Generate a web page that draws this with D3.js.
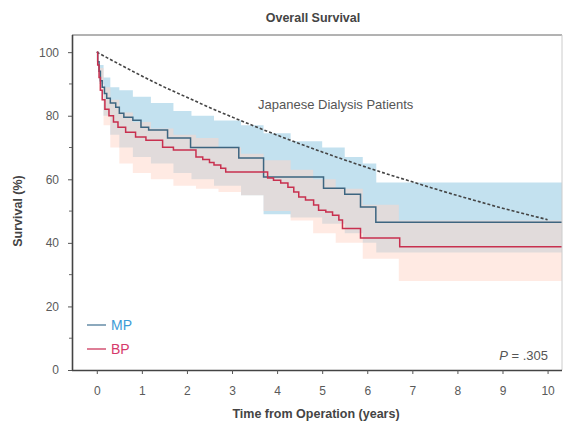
<!DOCTYPE html>
<html>
<head>
<meta charset="utf-8">
<script src="https://cdn.jsdelivr.net/npm/d3@7/dist/d3.min.js"></script>
<style>
  html, body { margin: 0; padding: 0; background: #fff; }
  svg { display: block; font-family: "Liberation Sans", Arial, Helvetica, sans-serif; }
</style>
</head>
<body>
<svg id="chart" width="566" height="423"></svg>
<script>
// Kaplan–Meier curves: [years, survival %]
const mpCurve = [
  [0,100],[0.02,97],[0.05,94],[0.08,91],[0.12,89],[0.17,87],[0.22,85.5],[0.3,84],
  [0.42,82.7],[0.5,80.8],[0.6,79.5],[0.8,78.6],[0.98,76.4],[1.15,75.5],[1.57,73],
  [2.08,70],[3.15,66.7],[3.7,60.7],[5.03,57.2],[5.5,55.3],[5.85,51.3],[6.19,46.5],[10.32,46.5]
];
const bpCurve = [
  [0,100],[0.02,96],[0.05,92],[0.08,88],[0.12,85],[0.18,82],[0.27,80],[0.37,78],
  [0.47,76.4],[0.64,74.8],[0.86,73.3],[1.09,72.3],[1.46,70.1],[1.7,69.2],[2.2,67],
  [2.35,66.2],[2.5,65.3],[2.6,64.5],[2.75,63.5],[2.86,62.3],[3.79,60.4],[3.92,59.7],
  [4.08,58.8],[4.24,57.5],[4.37,56],[4.48,54.4],[4.63,53.5],[4.81,51.9],[4.92,50.3],
  [5.08,49.7],[5.23,48.7],[5.37,47.2],[5.45,44.5],[5.85,41.5],[6.72,38.8],[10.32,38.8]
];
// Confidence bands: [years, lower %, upper %]
const mpBand = [
  [0,100,100],[0.05,90,96],[0.15,80,92],[0.3,74,89],[0.5,70,88],[0.8,67,86],[1.2,65,84],
  [1.7,62,81.5],[2.1,60,80],[2.6,58,78.5],[3.2,55,77],[3.7,49,74.5],[4.3,48,72],[5.0,46,70],
  [5.5,43,67],[5.9,40,65],[6.2,37,59],[10.32,37,59]
];
const bpBand = [
  [0,100,100],[0.05,88,95],[0.15,77,89],[0.3,70,85],[0.5,65,81],[0.8,62,78],[1.2,60,76],
  [1.7,58,74],[2.2,57,73],[2.7,56,70],[3.2,55,68],[3.7,50,66],[4.3,47,63],[4.8,43,60],
  [5.3,40,57],[5.9,35,52],[6.7,28,47],[10.32,28,47]
];
// Reference population curve
const refCurve = [
  [0,100],[0.5,96.2],[1,92.5],[1.5,89],[2,85.8],[2.5,82.6],[3,79.6],[3.5,76.7],[4,73.9],
  [4.5,71.2],[5,68.6],[5.5,66.1],[6,63.7],[6.5,61.4],[7,59.2],[7.5,57],[8,54.9],
  [8.5,52.9],[9,50.9],[9.5,49.1],[10,47.3]
];
const xTicks = [0,1,2,3,4,5,6,7,8,9,10];
const yTicks = [0,20,40,60,80,100];
const yMinorTicks = [10,30,50,70,90];
const seriesNames = ["MP", "BP"];

const svg = d3.select("#chart");
const plotL = 72, plotR = 562, plotT = 35, plotB = 370;

const x = d3.scaleLinear().domain([-0.55, 10.32]).range([plotL, plotR]);
const y = d3.scaleLinear().domain([0, 105.4]).range([plotB, plotT]);

// Confidence bands
const band = d3.area().curve(d3.curveStepAfter)
  .x(d => x(d[0])).y0(d => y(d[1])).y1(d => y(d[2]));
svg.append("path").datum(mpBand).attr("d", band).attr("fill", "#c3e1ef");
svg.append("path").datum(bpBand).attr("d", band).attr("fill", "#ffd6c8").attr("fill-opacity", 0.5);

// Reference dashed curve
const smooth = d3.line().curve(d3.curveMonotoneX).x(d => x(d[0])).y(d => y(d[1]));
svg.append("path").datum(refCurve).attr("d", smooth)
  .attr("fill", "none").attr("stroke", "#444").attr("stroke-width", 1.6)
  .attr("stroke-dasharray", "3,2");

// Step curves
const step = d3.line().curve(d3.curveStepAfter).x(d => x(d[0])).y(d => y(d[1]));
svg.append("path").datum(mpCurve).attr("d", step)
  .attr("fill", "none").attr("stroke", "#3d6580").attr("stroke-width", 1.5);
svg.append("path").datum(bpCurve).attr("d", step)
  .attr("fill", "none").attr("stroke", "#c8304f").attr("stroke-width", 1.5);

// Frame
svg.append("line").attr("x1", plotL).attr("x2", plotR).attr("y1", plotT).attr("y2", plotT)
  .attr("stroke", "#666").attr("stroke-width", 1);
svg.append("line").attr("x1", plotR).attr("x2", plotR).attr("y1", plotT).attr("y2", plotB)
  .attr("stroke", "#ccc").attr("stroke-width", 1);

// Axes
const xAxis = d3.axisBottom(x).tickValues(xTicks).tickSize(4).tickPadding(12).tickFormat(d3.format("d"));
const gx = svg.append("g").attr("transform", `translate(0,${plotB})`).call(xAxis);
gx.select(".domain").attr("d", `M${plotL},0.5H${plotR}`).attr("stroke", "#444").attr("stroke-width", 1.6);

const yAxis = d3.axisLeft(y).tickValues(yTicks).tickSize(4).tickPadding(9).tickFormat(d3.format("d"));
const gy = svg.append("g").attr("transform", `translate(${plotL},0)`).call(yAxis);
gy.select(".domain").attr("d", `M0.5,${plotT}V${plotB}`).attr("stroke", "#444").attr("stroke-width", 1.6);

svg.append("g").selectAll("line").data(yMinorTicks).join("line")
  .attr("x1", plotL - 3).attr("x2", plotL).attr("y1", d => y(d)).attr("y2", d => y(d))
  .attr("stroke", "#666");

svg.selectAll(".tick line").attr("stroke", "#555");
svg.selectAll(".tick text").attr("font-size", 12).attr("fill", "#5a5a5a")
  .attr("font-family", "'Liberation Sans', Arial, sans-serif");

// Titles
svg.append("text").attr("x", 313).attr("y", 22).attr("text-anchor", "middle")
  .attr("font-size", 12.5).attr("font-weight", "bold").attr("fill", "#444")
  .text("Overall Survival");
svg.append("text").attr("x", 316).attr("y", 418).attr("text-anchor", "middle")
  .attr("font-size", 12.5).attr("font-weight", "bold").attr("fill", "#444")
  .text("Time from Operation (years)");
svg.append("text").attr("transform", "translate(22,211) rotate(-90)").attr("text-anchor", "middle")
  .attr("font-size", 12.5).attr("font-weight", "bold").attr("fill", "#444")
  .text("Survival (%)");

// Annotations
svg.append("text").attr("x", 258).attr("y", 109)
  .attr("font-size", 13).attr("fill", "#555").text("Japanese Dialysis Patients");

const pText = svg.append("text").attr("x", 548).attr("y", 360).attr("text-anchor", "end")
  .attr("font-size", 13).attr("fill", "#555");
pText.append("tspan").attr("font-style", "italic").text("P");
pText.append("tspan").text(" = .305");

// Legend
const legendLine = ["#6f93ad", "#d65d7c"];
const legendText = ["#3d9bd6", "#d6396a"];
const lg = svg.append("g");
seriesNames.forEach((name, i) => {
  const ly = 325 + i * 24;
  lg.append("line").attr("x1", 87).attr("x2", 106).attr("y1", ly).attr("y2", ly)
    .attr("stroke", legendLine[i]).attr("stroke-width", 1.6);
  lg.append("text").attr("x", 111).attr("y", ly + 5).attr("font-size", 14)
    .attr("fill", legendText[i]).text(name);
});
</script>
</body>
</html>
